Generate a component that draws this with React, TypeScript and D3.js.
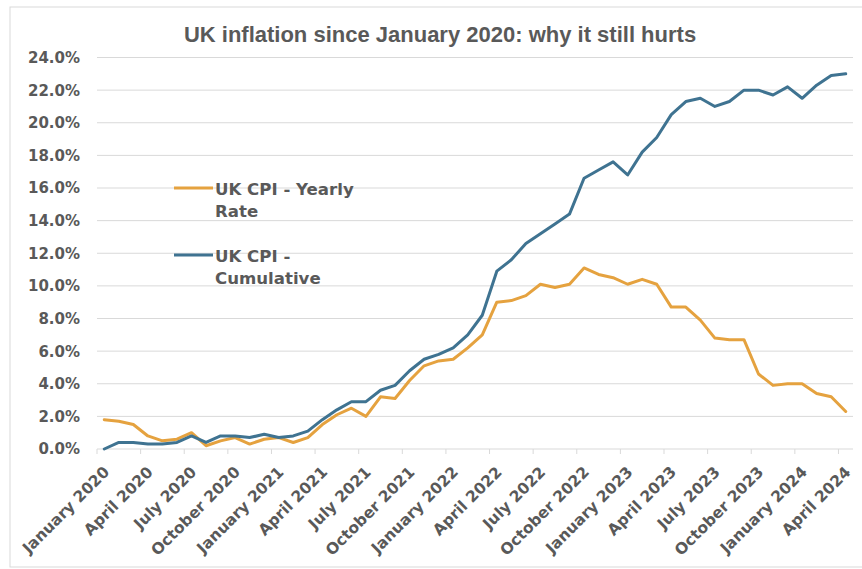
import React from "react";
import * as d3 from "d3";

const MONTH_NAMES = ["January","February","March","April","May","June","July","August","September","October","November","December"];
const YEARS = [2020, 2021, 2022, 2023, 2024];
const categories: string[] = [];
YEARS.forEach((y) => MONTH_NAMES.forEach((m) => categories.push(`${m} ${y}`)));
const months = categories.slice(0, 52); // January 2020 .. April 2024

const yearlyRate = [
  1.8, 1.7, 1.5, 0.8, 0.5, 0.6, 1.0, 0.2, 0.5, 0.7, 0.3, 0.6,
  0.7, 0.4, 0.7, 1.5, 2.1, 2.5, 2.0, 3.2, 3.1, 4.2, 5.1, 5.4,
  5.5, 6.2, 7.0, 9.0, 9.1, 9.4, 10.1, 9.9, 10.1, 11.1, 10.7, 10.5,
  10.1, 10.4, 10.1, 8.7, 8.7, 7.9, 6.8, 6.7, 6.7, 4.6, 3.9, 4.0,
  4.0, 3.4, 3.2, 2.3,
];
const cumulative = [
  0.0, 0.4, 0.4, 0.3, 0.3, 0.4, 0.8, 0.4, 0.8, 0.8, 0.7, 0.9,
  0.7, 0.8, 1.1, 1.8, 2.4, 2.9, 2.9, 3.6, 3.9, 4.8, 5.5, 5.8,
  6.2, 7.0, 8.2, 10.9, 11.6, 12.6, 13.2, 13.8, 14.4, 16.6, 17.1, 17.6,
  16.8, 18.2, 19.1, 20.5, 21.3, 21.5, 21.0, 21.3, 22.0, 22.0, 21.7, 22.2,
  21.5, 22.3, 22.9, 23.0,
];
const yTicks = [0, 2, 4, 6, 8, 10, 12, 14, 16, 18, 20, 22, 24];
const tickLabels = months.filter((_, i) => i % 3 === 0);

const series = [
  { name: ["UK CPI - Yearly", "Rate"], values: yearlyRate, color: "#E5A23F" },
  { name: ["UK CPI -", "Cumulative"], values: cumulative, color: "#3F7391" },
];

export default function App() {
  const W = 862, H = 569;
  const x = d3.scaleBand<string>().domain(months).range([97, 853]).paddingInner(0).paddingOuter(0);
  const y = d3.scaleLinear().domain([0, 24]).range([449, 57.5]);
  const cx = (m: string) => (x(m) as number) + x.bandwidth() / 2;
  const line = (vals: number[]) =>
    d3.line<number>().x((_, i) => cx(months[i])).y((v) => y(v))(vals) as string;
  const grey = "#595959";
  const font = "DejaVu Sans, Verdana, sans-serif";
  const xfs = 15.5;
  const off = 0.516 * xfs;
  return (
    <svg width={W} height={H} style={{ position: "absolute", left: 0, top: 0, background: "#fff" }}>
      <rect x={10} y={7} width={870} height={560} fill="#fff" stroke="#d9d9d9" strokeWidth={1} />
      <text x={440} y={42} textAnchor="middle" fontFamily="Liberation Sans, Arial, sans-serif" fontWeight="bold" fontSize={22} fill={grey}>
        UK inflation since January 2020: why it still hurts
      </text>
      {yTicks.map((t) => (
        <g key={t}>
          <line x1={97} x2={853} y1={y(t)} y2={y(t)} stroke="#d9d9d9" strokeWidth={1} />
          <text x={80} y={y(t)} dy="0.36em" textAnchor="end" fontFamily={font} fontWeight="bold" fontSize={15} fill={grey}>
            {t.toFixed(1)}%
          </text>
        </g>
      ))}
      {tickLabels.map((m) => (
        <line key={"t" + m} x1={x(m) as number} x2={x(m) as number} y1={y(0)} y2={y(0) + 5} stroke="#d9d9d9" />
      ))}
      {tickLabels.map((m) => {
        const ax = cx(m) - 2 + off;
        const ay = 465 + off;
        return (
          <text key={"l" + m} x={ax} y={ay} transform={`rotate(-45 ${ax} ${ay})`} textAnchor="end"
            fontFamily={font} fontWeight="bold" fontSize={xfs} fill={grey}>
            {m}
          </text>
        );
      })}
      {series.map((s) => (
        <path key={s.name[0]} d={line(s.values)} fill="none" stroke={s.color} strokeWidth={3} strokeLinejoin="round" strokeLinecap="round" />
      ))}
      {series.map((s, i) => {
        const ly = i === 0 ? 188 : 255;
        return (
          <g key={"lg" + i}>
            <line x1={174} x2={213} y1={ly} y2={ly} stroke={s.color} strokeWidth={3} />
            <text x={215} y={ly + 7} fontFamily={font} fontWeight="bold" fontSize={16.6} fill={grey}>
              <tspan x={215}>{s.name[0]}</tspan>
              <tspan x={215} dy={22}>{s.name[1]}</tspan>
            </text>
          </g>
        );
      })}
    </svg>
  );
}
